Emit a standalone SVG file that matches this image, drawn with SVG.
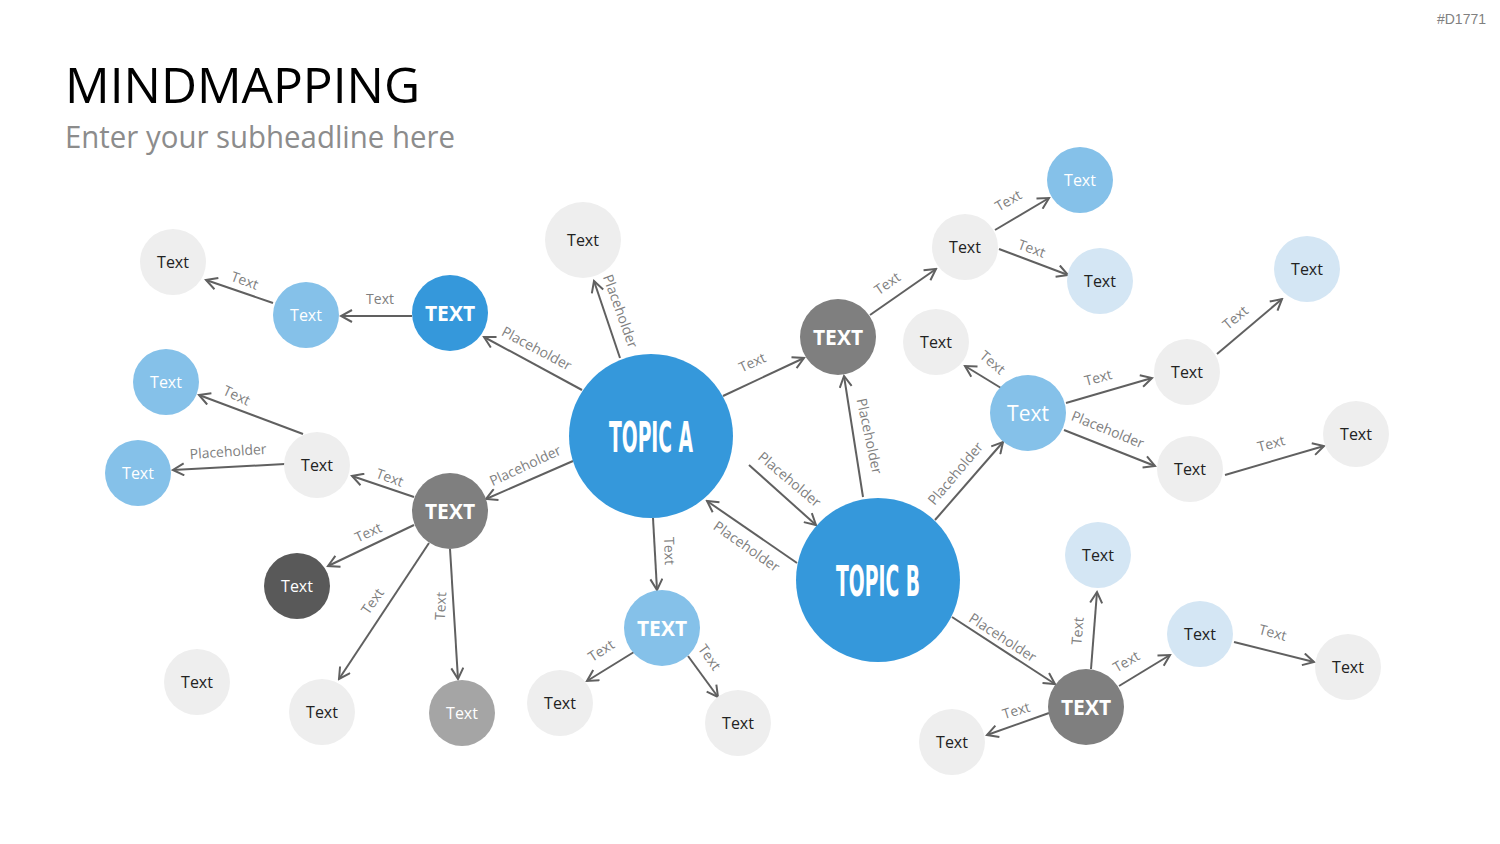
<svg xmlns="http://www.w3.org/2000/svg" width="1500" height="844" viewBox="0 0 1500 844">
<style>
.lbl{font-family:"Open Sans","Liberation Sans",sans-serif;font-size:14px;fill:#7f7f7f;text-anchor:middle;dominant-baseline:central}
.nt{font-family:"Open Sans","Liberation Sans",sans-serif;font-size:16px;text-anchor:middle;dominant-baseline:central}
.dk{fill:#222}
.wh{fill:#fff}
.big{font-family:"Open Sans","Liberation Sans",sans-serif;font-size:21px;font-weight:bold;fill:#fff;text-anchor:middle;dominant-baseline:central}
.topic{font-family:"Liberation Sans Narrow","DejaVu Sans Condensed","Liberation Sans",sans-serif;font-size:42px;font-weight:bold;fill:#fff;text-anchor:middle}
.c-grey{fill:#eeeeee}
.c-blue{fill:#3598db}
.c-lb{fill:#85c1e9}
.c-pb{fill:#d4e6f4}
.c-g7{fill:#7f7f7f}
.c-g5{fill:#595959}
.c-ga{fill:#a5a5a5}
.ln{stroke:#606060;stroke-width:2;fill:none;marker-end:url(#arr)}
</style>
<defs>
<marker id="arr" viewBox="0 0 14 14" markerWidth="14" markerHeight="14" refX="12" refY="7" orient="auto" markerUnits="userSpaceOnUse">
<path d="M1,1 L12,7 L1,13" fill="none" stroke="#606060" stroke-width="2"/>
</marker>
</defs>
<rect width="1500" height="844" fill="#fff"/>
<text x="1486" y="24" font-family="Liberation Sans,sans-serif" font-size="14" fill="#808080" text-anchor="end">#D1771</text>
<text x="65" y="103" font-family="Open Sans,Liberation Sans,sans-serif" font-size="50" fill="#000" textLength="355" lengthAdjust="spacingAndGlyphs">MINDMAPPING</text>
<text x="65" y="148" font-family="Open Sans,Liberation Sans,sans-serif" font-size="31" fill="#8c8c8c" textLength="390" lengthAdjust="spacingAndGlyphs">Enter your subheadline here</text>

<g id="connectors">
<line class="ln" x1="582" y1="390" x2="484" y2="337"/>
<line class="ln" x1="412" y1="316" x2="341" y2="316"/>
<line class="ln" x1="273" y1="303" x2="206" y2="280"/>
<line class="ln" x1="620" y1="358" x2="594" y2="281"/>
<line class="ln" x1="723" y1="396" x2="804" y2="358"/>
<line class="ln" x1="870" y1="315" x2="936" y2="269"/>
<line class="ln" x1="995" y1="230" x2="1049" y2="198"/>
<line class="ln" x1="999" y1="249" x2="1068" y2="275"/>
<line class="ln" x1="863" y1="497" x2="844" y2="376"/>
<line class="ln" x1="935" y1="520" x2="1003" y2="442"/>
<line class="ln" x1="1001" y1="388" x2="965" y2="366"/>
<line class="ln" x1="1066" y1="403" x2="1152" y2="378"/>
<line class="ln" x1="1217" y1="354" x2="1282" y2="299"/>
<line class="ln" x1="1064" y1="430" x2="1155" y2="466"/>
<line class="ln" x1="1225" y1="475" x2="1324" y2="446"/>
<line class="ln" x1="749" y1="465" x2="816" y2="525"/>
<line class="ln" x1="797" y1="563" x2="707" y2="501"/>
<line class="ln" x1="573" y1="461" x2="486" y2="499"/>
<line class="ln" x1="414" y1="497" x2="352" y2="476"/>
<line class="ln" x1="303" y1="434" x2="199" y2="395"/>
<line class="ln" x1="285" y1="464" x2="173" y2="470"/>
<line class="ln" x1="414" y1="525" x2="328" y2="566"/>
<line class="ln" x1="429" y1="543" x2="339" y2="679"/>
<line class="ln" x1="450" y1="549" x2="458" y2="679"/>
<line class="ln" x1="653" y1="518" x2="657" y2="590"/>
<line class="ln" x1="634" y1="652" x2="587" y2="681"/>
<line class="ln" x1="688" y1="656" x2="718" y2="697"/>
<line class="ln" x1="952" y1="617" x2="1055" y2="684"/>
<line class="ln" x1="1091" y1="669" x2="1097" y2="592"/>
<line class="ln" x1="1119" y1="686" x2="1170" y2="655"/>
<line class="ln" x1="1234" y1="642" x2="1314" y2="662"/>
<line class="ln" x1="1049" y1="713" x2="987" y2="735"/>

<text class="lbl" transform="translate(537,348) rotate(28)">Placeholder</text>
<text class="lbl" transform="translate(380,298)">Text</text>
<text class="lbl" transform="translate(245,280) rotate(20)">Text</text>
<text class="lbl" transform="translate(621,311) rotate(70)">Placeholder</text>
<text class="lbl" transform="translate(752,362) rotate(-25)">Text</text>
<text class="lbl" transform="translate(887,283) rotate(-35)">Text</text>
<text class="lbl" transform="translate(1008,200) rotate(-30)">Text</text>
<text class="lbl" transform="translate(1032,248) rotate(20)">Text</text>
<text class="lbl" transform="translate(870,436) rotate(78)">Placeholder</text>
<text class="lbl" transform="translate(955,473) rotate(-50)">Placeholder</text>
<text class="lbl" transform="translate(993,362) rotate(40)">Text</text>
<text class="lbl" transform="translate(1098,377) rotate(-15)">Text</text>
<text class="lbl" transform="translate(1235,317) rotate(-40)">Text</text>
<text class="lbl" transform="translate(1108,429) rotate(22)">Placeholder</text>
<text class="lbl" transform="translate(1271,443) rotate(-15)">Text</text>
<text class="lbl" transform="translate(790,479) rotate(40)">Placeholder</text>
<text class="lbl" transform="translate(747,546) rotate(35)">Placeholder</text>
<text class="lbl" transform="translate(525,465) rotate(-25)">Placeholder</text>
<text class="lbl" transform="translate(390,477) rotate(20)">Text</text>
<text class="lbl" transform="translate(237,395) rotate(25)">Text</text>
<text class="lbl" transform="translate(228,451) rotate(-4)">Placeholder</text>
<text class="lbl" transform="translate(368,532) rotate(-25)">Text</text>
<text class="lbl" transform="translate(372,601) rotate(-55)">Text</text>
<text class="lbl" transform="translate(440,606) rotate(-87)">Text</text>
<text class="lbl" transform="translate(670,551) rotate(88)">Text</text>
<text class="lbl" transform="translate(601,650) rotate(-33)">Text</text>
<text class="lbl" transform="translate(710,657) rotate(55)">Text</text>
<text class="lbl" transform="translate(1003,637) rotate(33)">Placeholder</text>
<text class="lbl" transform="translate(1077,631) rotate(-85)">Text</text>
<text class="lbl" transform="translate(1126,661) rotate(-30)">Text</text>
<text class="lbl" transform="translate(1273,632) rotate(15)">Text</text>
<text class="lbl" transform="translate(1016,710) rotate(-17)">Text</text>
</g>

<g id="topicA"><circle class="c-blue" cx="651" cy="436" r="82"/><text class="topic" x="651" y="452" textLength="84" lengthAdjust="spacingAndGlyphs">TOPIC A</text></g>
<g id="topicB"><circle class="c-blue" cx="878" cy="580" r="82"/><text class="topic" x="878" y="596" textLength="84" lengthAdjust="spacingAndGlyphs">TOPIC B</text></g>

<g id="n1"><circle class="c-blue" cx="450" cy="313" r="38"/><text class="big" x="450" y="313">TEXT</text></g>
<g id="n2"><circle class="c-lb" cx="306" cy="315" r="33"/><text class="nt wh" x="306" y="315">Text</text></g>
<g id="n3"><circle class="c-grey" cx="173" cy="262" r="33"/><text class="nt dk" x="173" y="262">Text</text></g>
<g id="n4"><circle class="c-grey" cx="583" cy="240" r="38"/><text class="nt dk" x="583" y="240">Text</text></g>
<g id="n5"><circle class="c-g7" cx="838" cy="337" r="38"/><text class="big" x="838" y="337">TEXT</text></g>
<g id="n6"><circle class="c-grey" cx="965" cy="247" r="33"/><text class="nt dk" x="965" y="247">Text</text></g>
<g id="n7"><circle class="c-lb" cx="1080" cy="180" r="33"/><text class="nt wh" x="1080" y="180">Text</text></g>
<g id="n8"><circle class="c-pb" cx="1100" cy="281" r="33"/><text class="nt dk" x="1100" y="281">Text</text></g>
<g id="n9"><circle class="c-grey" cx="936" cy="342" r="33"/><text class="nt dk" x="936" y="342">Text</text></g>
<g id="n10"><circle class="c-lb" cx="1028" cy="413" r="38"/><text class="nt wh" x="1028" y="413" style="font-size:21px">Text</text></g>
<g id="n11"><circle class="c-grey" cx="1187" cy="372" r="33"/><text class="nt dk" x="1187" y="372">Text</text></g>
<g id="n12"><circle class="c-pb" cx="1307" cy="269" r="33"/><text class="nt dk" x="1307" y="269">Text</text></g>
<g id="n13"><circle class="c-grey" cx="1190" cy="469" r="33"/><text class="nt dk" x="1190" y="469">Text</text></g>
<g id="n14"><circle class="c-grey" cx="1356" cy="434" r="33"/><text class="nt dk" x="1356" y="434">Text</text></g>
<g id="n15"><circle class="c-lb" cx="166" cy="382" r="33"/><text class="nt wh" x="166" y="382">Text</text></g>
<g id="n16"><circle class="c-lb" cx="138" cy="473" r="33"/><text class="nt wh" x="138" y="473">Text</text></g>
<g id="n17"><circle class="c-grey" cx="317" cy="465" r="33"/><text class="nt dk" x="317" y="465">Text</text></g>
<g id="n18"><circle class="c-g7" cx="450" cy="511" r="38"/><text class="big" x="450" y="511">TEXT</text></g>
<g id="n19"><circle class="c-g5" cx="297" cy="586" r="33"/><text class="nt wh" x="297" y="586">Text</text></g>
<g id="n20"><circle class="c-grey" cx="197" cy="682" r="33"/><text class="nt dk" x="197" y="682">Text</text></g>
<g id="n21"><circle class="c-grey" cx="322" cy="712" r="33"/><text class="nt dk" x="322" y="712">Text</text></g>
<g id="n22"><circle class="c-ga" cx="462" cy="713" r="33"/><text class="nt wh" x="462" y="713">Text</text></g>
<g id="n23"><circle class="c-lb" cx="662" cy="628" r="38"/><text class="big" x="662" y="628">TEXT</text></g>
<g id="n24"><circle class="c-grey" cx="560" cy="703" r="33"/><text class="nt dk" x="560" y="703">Text</text></g>
<g id="n25"><circle class="c-grey" cx="738" cy="723" r="33"/><text class="nt dk" x="738" y="723">Text</text></g>
<g id="n26"><circle class="c-pb" cx="1098" cy="555" r="33"/><text class="nt dk" x="1098" y="555">Text</text></g>
<g id="n27"><circle class="c-g7" cx="1086" cy="707" r="38"/><text class="big" x="1086" y="707">TEXT</text></g>
<g id="n28"><circle class="c-grey" cx="952" cy="742" r="33"/><text class="nt dk" x="952" y="742">Text</text></g>
<g id="n29"><circle class="c-pb" cx="1200" cy="634" r="33"/><text class="nt dk" x="1200" y="634">Text</text></g>
<g id="n30"><circle class="c-grey" cx="1348" cy="667" r="33"/><text class="nt dk" x="1348" y="667">Text</text></g>
</svg>
